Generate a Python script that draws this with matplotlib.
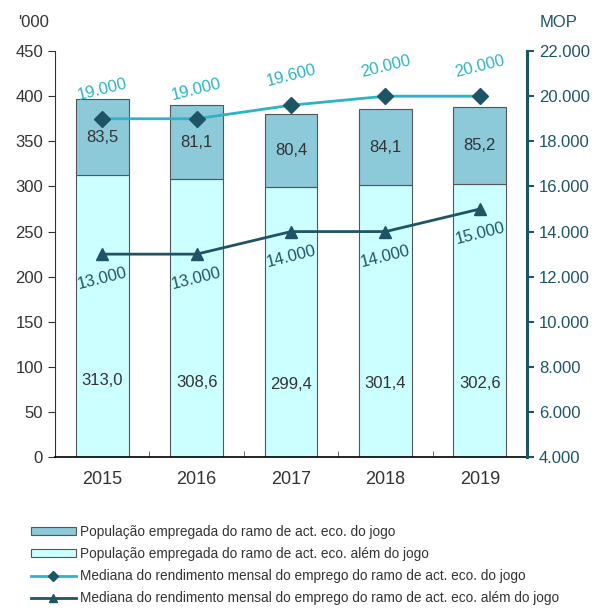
import matplotlib
matplotlib.use("Agg")
import matplotlib.pyplot as plt
import numpy as np
from matplotlib.lines import Line2D
from matplotlib.patches import Patch

plt.rcParams['font.family'] = ['Liberation Sans Narrow', 'Liberation Sans', 'DejaVu Sans']

years = ['2015', '2016', '2017', '2018', '2019']
pop_jogo = [83.5, 81.1, 80.4, 84.1, 85.2]
pop_outros = [313.0, 308.6, 299.4, 301.4, 302.6]
med_jogo = [19000, 19000, 19600, 20000, 20000]
med_outros = [13000, 13000, 14000, 14000, 15000]

leg_labels = [
    'População empregada do ramo de act. eco. do jogo',
    'População empregada do ramo de act. eco. além do jogo',
    'Mediana do rendimento mensal do emprego do ramo de act. eco. do jogo',
    'Mediana do rendimento mensal do emprego do ramo de act. eco. além do jogo',
]

c_bar_jogo = '#8CC9D9'
c_bar_out = '#CCFFFF'
c_line_jogo = '#2DB3C6'
c_line_out = '#1E5566'
c_text = '#333333'

def fmt(v):
    return f'{v:.1f}'.replace('.', ',')

def fmt_k(v):
    return f'{int(v):,}'.replace(',', '.')

fig = plt.figure(figsize=(5.97, 6.08), dpi=100)
ax = fig.add_axes([0.092, 0.248, 0.791, 0.668])
x = np.arange(len(years))
w = 0.56
ax.bar(x, pop_outros, w, color=c_bar_out, edgecolor='#555555', linewidth=0.8, zorder=2)
ax.bar(x, pop_jogo, w, bottom=pop_outros, color=c_bar_jogo, edgecolor='#555555', linewidth=0.8, zorder=2)
for i in range(len(years)):
    ax.text(x[i], pop_outros[i] * 0.27, fmt(pop_outros[i]), ha='center', va='center', fontsize=12, color=c_text)
    ax.text(x[i], pop_outros[i] + pop_jogo[i] / 2, fmt(pop_jogo[i]), ha='center', va='center', fontsize=12, color=c_text)

ax.set_xlim(-0.5, len(years) - 0.5)
ax.set_ylim(0, 450)
ax.set_yticks(np.arange(0, 451, 50))
ax.set_xticks(x)
ax.set_xticklabels(years, fontsize=13, color=c_text)
ax.tick_params(axis='x', length=0, pad=10)
ax.set_xticks(np.arange(-0.5, len(years), 1), minor=True)
ax.tick_params(axis='x', which='minor', direction='in', length=4, color='#555555')
ax.tick_params(axis='y', labelsize=12, labelcolor=c_text, direction='out', length=5, color='#333333')
for s in ['top', 'right']:
    ax.spines[s].set_visible(False)
ax.spines['left'].set_color('#333333')
ax.spines['bottom'].set_color('#000000')
ax.spines['bottom'].set_linewidth(1.2)
ax.text(-0.078, 1.071, "'000", transform=ax.transAxes, fontsize=12, color=c_text, ha='left', va='center')

ax2 = ax.twinx()
ax2.set_ylim(4000, 22000)
ax2.set_yticks(np.arange(4000, 22001, 2000))
ax2.set_yticklabels([fmt_k(v) for v in np.arange(4000, 22001, 2000)])
ax2.tick_params(axis='y', labelsize=12, labelcolor=c_line_out, color=c_line_out, direction='out', length=5, width=1.5)
for s in ['top', 'left', 'bottom']:
    ax2.spines[s].set_visible(False)
ax2.spines['right'].set_color(c_line_out)
ax2.spines['right'].set_linewidth(2.2)
ax2.plot(x, med_jogo, color=c_line_jogo, lw=2, marker='D', ms=8, mfc=c_line_out, mec=c_line_out, zorder=3)
ax2.plot(x, med_outros, color=c_line_out, lw=2, marker='^', ms=9, mfc=c_line_out, mec=c_line_out, zorder=3)
for i in range(len(years)):
    ax2.text(x[i], med_jogo[i] + 1300, fmt_k(med_jogo[i]), ha='center', va='center', rotation=14, fontsize=12, color=c_line_jogo)
    ax2.text(x[i], med_outros[i] - 1100, fmt_k(med_outros[i]), ha='center', va='center', rotation=14, fontsize=12, color=c_line_out)
ax2.text(1.027, 1.071, 'MOP', transform=ax2.transAxes, fontsize=12, color=c_line_out, ha='left', va='center')

handles = [
    Patch(facecolor=c_bar_jogo, edgecolor='#555555', linewidth=0.8),
    Patch(facecolor=c_bar_out, edgecolor='#555555', linewidth=0.8),
    Line2D([0], [0], color=c_line_jogo, lw=2, marker='D', ms=5, mfc=c_line_out, mec=c_line_out),
    Line2D([0], [0], color=c_line_out, lw=2, marker='^', ms=6, mfc=c_line_out, mec=c_line_out),
]
fig.legend(handles, leg_labels, loc='upper left', bbox_to_anchor=(0.04, 0.148), frameon=False,
           fontsize=9.8, handlelength=3.3, handleheight=0.55, handletextpad=0.3, labelspacing=0.6,
           labelcolor=c_text, borderpad=0)

fig.savefig('out.png', dpi=100)
